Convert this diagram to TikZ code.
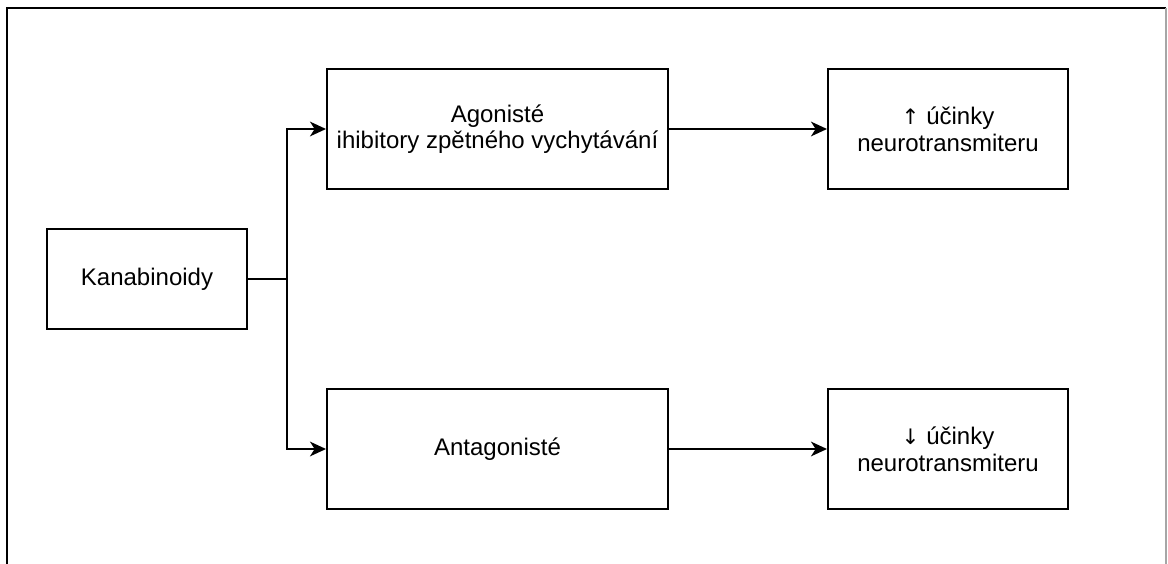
\documentclass[tikz,border=0pt]{standalone}
\usepackage{fontspec}
\setmainfont{Liberation Sans}
\newfontfamily\arrfont{DejaVu Sans}
\usetikzlibrary{arrows.meta}
\begin{document}
\begin{tikzpicture}[x=0.75pt,y=-0.75pt,
  box/.style={draw=black,line width=1.5pt,fill=white,inner sep=0pt,align=center,
    font=\fontsize{18pt}{20pt}\selectfont},
  conn/.style={line width=1.5pt,-{Stealth[length=12pt,width=11pt,inset=3.5pt]}},
  plain/.style={line width=1.5pt}]
\useasboundingbox (0,0) rectangle (1168,564);
\fill[white] (0,0) rectangle (1168,564);
\draw[line width=1.5pt] (7,564) -- (7,8) -- (1166,8);
\draw[line width=0.8pt,black!35] (1166,8) -- (1166,564);
\node[box,minimum width=150pt,minimum height=75pt] (kan) at (147,279) {Kanabinoidy};
\node[box,minimum width=255.75pt,minimum height=90pt] (ago) at (497.5,129) {Agonisté\\ihibitory zpětného vychytávání};
\node[box,minimum width=255.75pt,minimum height=90pt] (ant) at (497.5,449) {Antagonisté};
\node[box,minimum width=180pt,minimum height=90pt] (up) at (948,129) {{\arrfont\fontsize{16pt}{20pt}\selectfont ↑} účinky\\neurotransmiteru};
\node[box,minimum width=180pt,minimum height=90pt] (down) at (948,449) {{\arrfont\fontsize{16pt}{20pt}\selectfont ↓} účinky\\neurotransmiteru};
\coordinate (j) at (287,279);
\draw[plain] (kan.east) -- (j);
\draw[conn] (j) |- (ago.west);
\draw[conn] (j) |- (ant.west);
\draw[conn] (ago.east) -- (up.west);
\draw[conn] (ant.east) -- (down.west);
\end{tikzpicture}
\end{document}
